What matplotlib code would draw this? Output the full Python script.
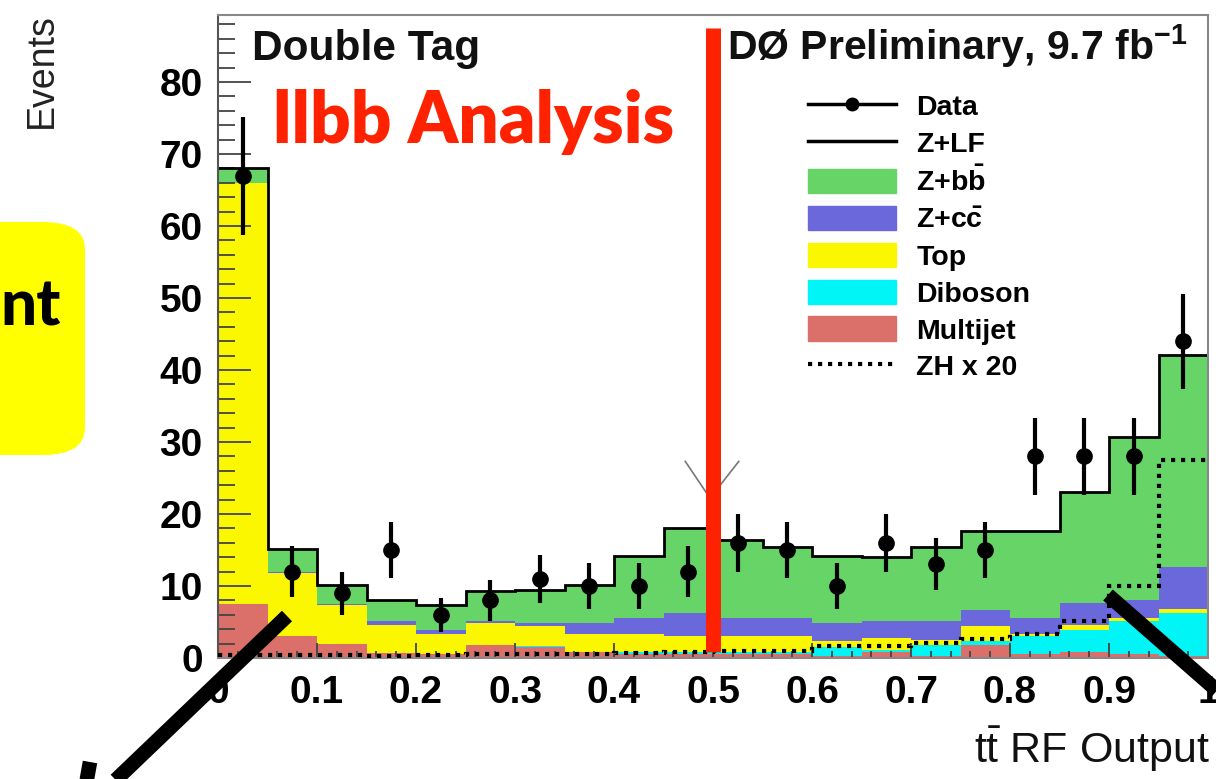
import numpy as np
import matplotlib
matplotlib.use("Agg")
import matplotlib.pyplot as plt
from matplotlib.lines import Line2D
from matplotlib.patches import Patch, FancyBboxPatch

plt.rcParams['font.family'] = ['Liberation Sans', 'DejaVu Sans']
plt.rcParams['mathtext.fontset'] = 'custom'
plt.rcParams['mathtext.rm'] = 'Liberation Sans'
plt.rcParams['mathtext.bf'] = 'Liberation Sans:bold'
plt.rcParams['mathtext.default'] = 'regular'

# --- data: 20 bins of the ttbar RF output ---
bin_edges = np.linspace(0.0, 1.0, 21)
multijet = [7.5, 3.0, 2.0, 0.7, 0.5, 1.8, 1.5, 0.8, 0.6, 0.6,
            0.5, 0.5, 0.3, 0.8, 0.3, 1.8, 0.6, 0.8, 0.5, 0.3]
diboson = [0.0, 0.0, 0.0, 0.0, 0.0, 0.0, 0.1, 0.1, 0.2, 0.3,
           0.3, 0.3, 1.2, 0.3, 1.5, 0.6, 2.4, 3.1, 4.6, 5.9]
top = [58.5, 8.8, 5.3, 3.9, 2.9, 3.0, 2.8, 2.5, 2.6, 2.2,
       2.2, 2.2, 0.8, 1.7, 0.7, 2.0, 0.4, 0.7, 0.4, 0.6]
z_cc = [0.0, 0.2, 0.2, 0.5, 0.5, 0.4, 0.4, 1.4, 2.1, 3.1,
        2.5, 2.5, 2.5, 2.3, 2.7, 2.2, 2.1, 3.1, 2.5, 5.9]
z_bb = [2.0, 3.0, 2.5, 2.9, 3.4, 4.0, 4.6, 5.2, 8.5, 11.8,
        10.8, 9.8, 9.3, 8.8, 10.1, 11.0, 12.1, 15.3, 22.6, 29.3]
z_lf = [0.1] * 20
zh_x20 = [0.4, 0.4, 0.4, 0.3, 0.4, 0.5, 0.5, 0.6, 0.7, 0.8,
          1.0, 1.0, 1.6, 1.6, 2.1, 2.6, 3.4, 5.1, 10.0, 27.5]
data = [67, 12, 9, 15, 6, 8, 11, 10, 10, 12,
        16, 15, 10, 16, 13, 15, 28, 28, 28, 44]
data_err = [8.2, 3.5, 3.0, 3.9, 2.4, 2.8, 3.3, 3.2, 3.2, 3.5,
            4.0, 3.9, 3.2, 4.0, 3.6, 3.9, 5.3, 5.3, 5.3, 6.6]

x_ticks = [0.0, 0.1, 0.2, 0.3, 0.4, 0.5, 0.6, 0.7, 0.8, 0.9, 1.0]
x_tick_labels = ["0", "0.1", "0.2", "0.3", "0.4", "0.5", "0.6", "0.7", "0.8", "0.9", "1"]
y_ticks = [0, 10, 20, 30, 40, 50, 60, 70, 80]

W, H = 1216, 779

fig = plt.figure(figsize=(W / 100, H / 100), dpi=100)
ax = fig.add_axes([218 / W, 1 - 658 / H, 990 / W, (658 - 15) / H])

# stacked backgrounds, bottom to top
layers = [
    (multijet, '#db6f69'),
    (diboson, '#00f6f6'),
    (top, '#fbf700'),
    (z_cc, '#6b68dc'),
    (z_bb, '#66d466'),
    (z_lf, 'white'),
]
base = np.zeros(20)
for vals, col in layers:
    vals = np.asarray(vals, dtype=float)
    ax.stairs(base + vals, bin_edges, baseline=base, fill=True, color=col, lw=0, zorder=1)
    base = base + vals
ax.stairs(base, bin_edges, baseline=None, color='black', lw=2.0, zorder=2)

# ZH signal x 20
ax.stairs(zh_x20, bin_edges, baseline=None, color='black', lw=3.0,
          linestyle=(0, (1.0, 1.4)), zorder=3)

# data points
centers = 0.5 * (bin_edges[:-1] + bin_edges[1:])
ax.errorbar(centers, data, yerr=data_err, fmt='o', color='black', ms=11,
            elinewidth=3, capsize=0, zorder=4)

ax.set_xlim(0, 1)
ax.set_ylim(0, 89.3)
ax.set_xticks(x_ticks)
ax.set_xticklabels(x_tick_labels)
ax.set_xticks(np.arange(0, 1.0001, 0.02), minor=True)
ax.set_yticks(y_ticks)
ax.set_yticks(np.arange(0, 89, 2), minor=True)
ax.tick_params(axis='y', which='major', direction='in', length=24, width=1.3,
               color='#444', labelsize=28, pad=11)
ax.tick_params(axis='y', which='minor', direction='in', length=12, width=1.3, color='#444')
ax.tick_params(axis='x', which='major', direction='in', length=11, width=1.3,
               color='#444', labelsize=28, pad=12)
ax.tick_params(axis='x', which='minor', direction='in', length=5, width=1.3, color='#444')
for lbl in ax.get_xticklabels() + ax.get_yticklabels():
    lbl.set_fontweight('bold')
for s in ax.spines.values():
    s.set_color('#888')
    s.set_linewidth(1.5)
ax.spines['left'].set_color('#555')

# texts inside the frame
ax.text(252 / W, 1 - 60 / H, "Double Tag", transform=fig.transFigure,
        fontsize=30.5, fontweight='bold', color='#111', va='baseline')
ax.text(727 / W, 1 - 60 / H, r"DØ Preliminary, 9.7 fb$^{\mathbf{-1}}$",
        transform=fig.transFigure, fontsize=29.5, fontweight='bold',
        color='#111', va='baseline')

# legend
handles = [
    Line2D([], [], color='black', lw=2.5, marker='o', ms=9),
    Line2D([], [], color='black', lw=2.5),
    Patch(color='#66d466'),
    Patch(color='#6b68dc'),
    Patch(color='#fbf700'),
    Patch(color='#00f6f6'),
    Patch(color='#db6f69'),
    Line2D([], [], color='black', lw=3.0, linestyle=(0, (1.0, 1.4))),
]
labels = ["Data", "Z+LF", r"Z+b$\bar{\mathbf{b}}$", r"Z+c$\bar{\mathbf{c}}$",
          "Top", "Diboson", "Multijet", "ZH x 20"]
ax.legend(handles, labels, loc='upper left', bbox_to_anchor=(808 / W, 1 - 93 / H),
          bbox_transform=fig.transFigure, frameon=False,
          prop={'size': 20.5, 'weight': 'bold'}, handlelength=3.1, handleheight=0.95,
          handletextpad=0.7, labelspacing=0.31, borderpad=0, borderaxespad=0)

# axis titles
fig.text(42 / W, 1 - 71 / H, "Events", rotation=90, fontsize=27, color='#222',
         ha='center', va='center')
fig.text(1210 / W, 1 - 763 / H, r"t$\bar{\mathrm{t}}$ RF Output", fontsize=31,
         color='#111', ha='right', va='baseline')

# slide overlays: red marker line, label and arrows
ax.plot([0.5, 0.5], [0.8, 87.5], color='#ff2200', lw=10.8, solid_capstyle='butt', zorder=6)
ax.plot([0.472, 0.497, 0.526], [27.3, 22.2, 27.3], color='#777', lw=1.2, zorder=5)
fig.text(273 / W, 1 - 143 / H, "llbb Analysis", fontsize=51, fontweight='heavy',
         family='Lato', color='#ff2200', va='baseline')

box = FancyBboxPatch((-60 / W, 1 - 455 / H), 145 / W, 233 / H,
                     boxstyle="round,pad=0,rounding_size=0.035",
                     transform=fig.transFigure, facecolor='#ffff00', edgecolor='none')
fig.add_artist(box)
fig.text(61 / W, 1 - 325 / H, "nt", fontsize=46, fontweight='black', family='Lato',
         color='black', ha='right', va='baseline')

for (x0, y0), (x1, y1) in [((287, 616), (100, 795)),
                           ((1108, 595), (1245, 715)),
                           ((90, 762), (85, 790))]:
    fig.add_artist(Line2D([x0 / W, x1 / W], [1 - y0 / H, 1 - y1 / H], color='black',
                          lw=10.5, solid_capstyle='butt', transform=fig.transFigure,
                          zorder=10))

fig.savefig("out.png", dpi=100)
